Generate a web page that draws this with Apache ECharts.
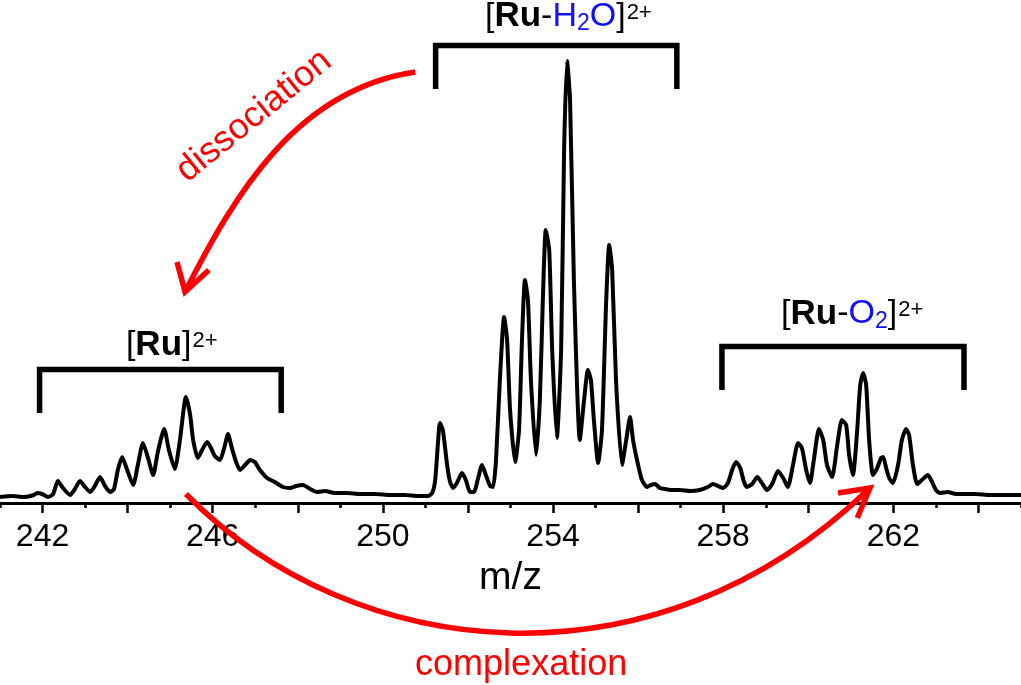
<!DOCTYPE html>
<html><head><meta charset="utf-8">
<script src="https://cdn.jsdelivr.net/npm/echarts@6/dist/echarts.min.js"></script>
<style>html,body{margin:0;padding:0;background:#fff}#c{width:1021px;height:685px}</style>
</head><body><div id="c"></div>
<script>
// ---- data: m/z and intensity ----
const mzValues = [
241.00,241.28,241.56,241.80,241.87,241.99,242.13,242.25,242.36,242.48,242.65,242.76,242.88,243.00,243.12,243.23,243.35,243.47,243.59,243.68,
243.77,243.87,243.99,244.13,244.24,244.36,244.48,244.60,244.71,244.86,244.97,245.11,245.23,245.37,245.47,245.54,245.65,245.75,245.87,245.96,
246.05,246.17,246.27,246.36,246.45,246.55,246.64,246.76,246.88,246.99,247.11,247.28,247.46,247.65,247.82,247.96,248.12,248.29,248.45,248.64,
248.87,249.16,249.46,249.82,250.17,250.52,250.83,251.06,
251.16,251.23,251.30,251.34,251.41,251.51,251.58,251.65,251.74,251.86,251.95,252.05,252.14,252.24,252.33,252.42,252.52,252.59,252.66,252.75,
252.85,252.92,252.99,253.11,253.20,253.27,253.34,253.41,253.48,253.60,253.69,253.76,253.83,253.91,253.98,254.09,254.19,254.26,254.33,254.40,
254.49,254.63,254.73,254.82,254.89,254.96,255.06,255.15,255.25,255.32,255.39,255.48,255.62,255.72,255.81,255.88,256.00,256.09,256.21,256.30,
256.40,256.51,256.63,256.75,256.98,257.22,257.45,257.64,
257.76,257.88,258.00,258.11,258.21,258.30,258.40,258.49,258.56,258.68,258.80,258.91,259.03,259.15,259.29,259.41,259.52,259.64,259.76,259.85,
259.95,260.04,260.13,260.25,260.35,260.44,260.56,260.68,260.79,260.89,260.96,261.05,261.15,261.22,261.29,261.36,261.43,261.52,261.62,261.71,
261.76,261.83,261.90,261.99,262.11,262.20,262.30,262.37,262.46,262.56,262.67,262.81,262.91,263.00,263.10,263.28,263.47,263.68,263.92,264.27,
264.62,265.00
];
const intensityValues = [
1.2,1.4,1.2,1.6,2.0,1.8,1.2,1.8,4.4,3.0,1.6,2.8,4.4,3.2,2.2,3.4,5.2,3.4,2.2,2.8,
6.6,9.2,6.6,3.6,7.6,12.0,9.0,5.6,10.2,14.8,10.6,6.8,12.6,21.2,17.6,12.6,9.0,10.6,12.2,11.0,
9.4,8.6,11.0,13.8,11.0,8.2,6.6,7.6,8.6,8.2,6.6,5.0,4.2,3.2,3.0,3.4,3.6,2.8,2.2,2.4,
2.0,2.0,1.8,1.8,1.6,1.6,1.4,1.4,
2.0,4.6,12.6,16.0,14.6,7.6,4.2,3.0,4.0,6.0,4.6,2.2,2.2,5.0,7.6,5.6,3.4,3.2,8.6,24.6,
37.2,32.6,18.6,8.2,14.6,32.6,44.6,40.6,24.6,9.6,20.6,40.6,54.6,50.6,30.6,13.0,30.6,70.6,88.4,80.6,
44.6,12.6,20.6,26.6,24.6,16.6,8.0,14.6,40.6,51.6,46.6,24.6,7.6,12.6,17.2,12.6,7.6,4.6,3.2,3.6,
3.8,3.0,2.8,2.6,2.6,2.4,2.6,3.2,
3.8,3.4,3.0,4.0,6.6,8.2,7.0,4.2,3.2,3.8,5.2,4.0,2.6,3.8,6.4,5.0,3.2,7.6,12.0,11.0,
6.6,4.0,8.6,14.8,12.6,7.6,5.2,11.6,16.6,15.6,9.6,5.6,14.6,23.6,26.0,23.6,12.6,5.6,7.0,9.0,
9.2,7.0,5.0,4.0,7.6,12.6,14.8,13.6,7.6,3.8,4.6,5.6,4.2,2.6,2.0,2.2,1.8,1.8,1.8,1.6,
1.6,1.6
];
const majorTicks = [242,244,246,248,250,252,254,256,258,260,262,264];
const minorTicks = [241,243,245,247,249,251,253,255,257,259,261,263,265];
const tickLabels = [242,246,250,254,258,262];
const axisTitle = 'm/z';

// isotope clusters marked with brackets (m/z range)
const clusterLabels = [
  '{n|[}{b|Ru}{n|]}{sup|2+}',
  '{n|[}{b|Ru}{n|-}{bl|H}{sub|2}{bl|O}{n|]}{sup|2+}',
  '{n|[}{b|Ru}{n|-}{bl|O}{sub|2}{n|]}{sup|2+}'
];
const clusterStart = [241.93, 251.24, 257.97];
const clusterEnd   = [247.61, 256.91, 263.66];

// ---- annotation geometry (data space) ----
const bracketTop = [26.7, 91.5, 31.3];
const bracketFoot = [18.0, 82.8, 22.6];
const labelAnchor = [[243.96, 31.6], [252.40, 97.3], [259.36, 37.8]];
// cubic bezier control points [start, c1, c2, end] in (m/z, intensity)
const arrowDissociation = [[250.76, 86.2], [247.97, 82.7], [246.52, 61.8], [245.35, 42.2]];
const headDissociation = [[245.16, 48.2], [245.35, 42.2], [245.91, 46.6]];
const arrowComplexation = [[245.37, 1.8], [249.33, -32.4], [256.38, -38.4], [261.40, 2.6]];
const headComplexation = [[260.70, 2.0], [261.45, 3.0], [261.15, -3.0]];
const processText = [
  {text: 'dissociation', pos: [246.97, 77.4], rotate: 39},
  {text: 'complexation', pos: [253.25, -32.4], rotate: 0}
];

const FONT = '"Liberation Sans", Arial, Helvetica, sans-serif';
const RED = '#ff0000', BLUE = '#1010ff';

const spectrum = mzValues.map((m, i) => [m, intensityValues[i]]);

const series = [];
series.push({
  type: 'line', data: spectrum, showSymbol: false, smooth: 0.2,
  lineStyle: {color: '#000', width: 4, join: 'round'}, z: 3
});
clusterLabels.forEach((lab, i) => {
  series.push({
    type: 'line', showSymbol: false, clip: false,
    data: [[clusterStart[i], bracketFoot[i]], [clusterStart[i], bracketTop[i]], [clusterEnd[i], bracketTop[i]], [clusterEnd[i], bracketFoot[i]]],
    lineStyle: {color: '#000', width: 5.5, cap: 'butt', join: 'miter'}
  });
  series.push({
    type: 'scatter', clip: false, symbolSize: 1, itemStyle: {color: 'rgba(0,0,0,0)', opacity: 1},
    data: [labelAnchor[i]],
    label: {
      show: true, opacity: 1, position: 'inside', align: 'left', verticalAlign: 'middle',
      formatter: lab,
      rich: {
        n: {fontSize: 34, lineHeight: 38, color: '#000', fontFamily: FONT},
        b: {fontSize: 35, lineHeight: 38, color: '#000', fontWeight: 'bold', fontFamily: FONT},
        bl: {fontSize: 34, lineHeight: 38, color: BLUE, fontFamily: FONT},
        sub: {fontSize: 23, lineHeight: 23, verticalAlign: 'bottom', color: BLUE, fontFamily: FONT},
        sup: {fontSize: 22, lineHeight: 28, verticalAlign: 'top', color: '#000', fontFamily: FONT, padding: [4, 0, 0, 1]}
      }
    }
  });
});
processText.forEach(t => {
  series.push({
    type: 'scatter', clip: false, symbolSize: 1, itemStyle: {color: 'rgba(0,0,0,0)', opacity: 1},
    data: [t.pos],
    label: {show: true, opacity: 1, position: 'inside', align: 'center', verticalAlign: 'middle',
      formatter: t.text, rotate: t.rotate, color: RED, fontSize: 36, fontFamily: FONT}
  });
});

const chart = echarts.init(document.getElementById('c'), null, {renderer: 'canvas'});
chart.setOption({
  animation: false,
  backgroundColor: '#fff',
  grid: {left: 0, right: 0, top: 3, bottom: 182, containLabel: false},
  xAxis: [
    {
      type: 'value', min: 241, max: 265, position: 'bottom',
      name: axisTitle, nameLocation: 'middle', nameGap: 56,
      nameTextStyle: {fontSize: 39, color: '#000', fontFamily: FONT},
      axisLine: {show: true, lineStyle: {color: '#000', width: 3}},
      axisTick: {show: true, customValues: majorTicks, length: 10, lineStyle: {color: '#000', width: 2.5}},
      axisLabel: {show: true, customValues: tickLabels, fontSize: 32, color: '#000', fontFamily: FONT, margin: 18,
        formatter: v => String(v)},
      splitLine: {show: false}
    },
    {
      type: 'value', min: 241, max: 265, position: 'bottom',
      axisLine: {show: false},
      axisTick: {show: true, customValues: minorTicks, length: 5, lineStyle: {color: '#000', width: 2.5}},
      axisLabel: {show: false},
      splitLine: {show: false}
    }
  ],
  yAxis: {type: 'value', min: 0, max: 100, show: false, splitLine: {show: false}},
  series: series
});

// arrows: library bezier shapes placed through the chart's own scales
const px = p => chart.convertToPixel({gridIndex: 0}, p);
function bez(pts) {
  const [a, b, c, d] = pts.map(px);
  return {type: 'bezierCurve', silent: true, z: 10,
    shape: {x1: a[0], y1: a[1], cpx1: b[0], cpy1: b[1], cpx2: c[0], cpy2: c[1], x2: d[0], y2: d[1]},
    style: {stroke: RED, lineWidth: 5.5, fill: null, lineCap: 'butt'}};
}
function head(pts) {
  return {type: 'polyline', silent: true, z: 10,
    shape: {points: pts.map(px)},
    style: {stroke: RED, lineWidth: 5.5, fill: null, lineJoin: 'miter', lineCap: 'butt'}};
}
chart.setOption({graphic: [bez(arrowDissociation), head(headDissociation), bez(arrowComplexation), head(headComplexation)]});
</script></body></html>
